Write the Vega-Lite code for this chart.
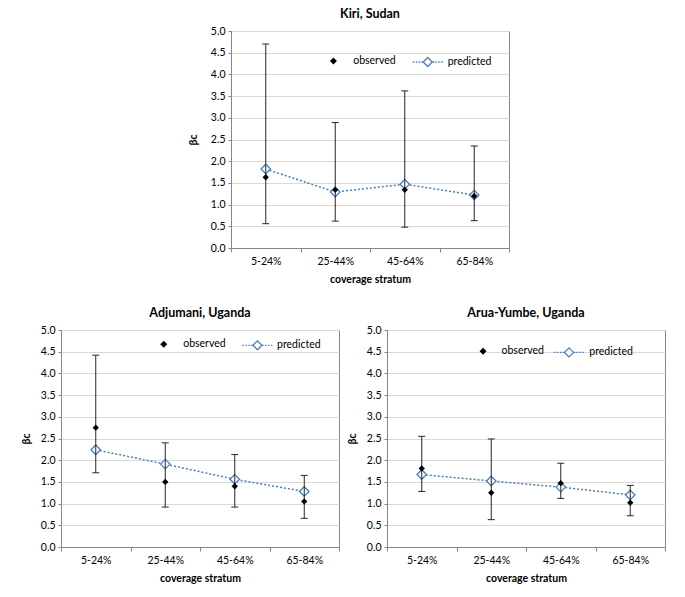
{
  "$schema": "https://vega.github.io/schema/vega-lite/v6.json",
  "padding": {"left": 20, "top": 7, "right": 5, "bottom": 5},
  "background": "white",
  "datasets": {
    "d": [
      {"site": "Kiri, Sudan", "stratum": "5-24%", "obs": 1.63, "pred": 1.82, "lo": 0.56, "hi": 4.70},
      {"site": "Kiri, Sudan", "stratum": "25-44%", "obs": 1.34, "pred": 1.29, "lo": 0.62, "hi": 2.89},
      {"site": "Kiri, Sudan", "stratum": "45-64%", "obs": 1.34, "pred": 1.47, "lo": 0.48, "hi": 3.62},
      {"site": "Kiri, Sudan", "stratum": "65-84%", "obs": 1.20, "pred": 1.22, "lo": 0.63, "hi": 2.35},
      {"site": "Adjumani, Uganda", "stratum": "5-24%", "obs": 2.75, "pred": 2.24, "lo": 1.71, "hi": 4.42},
      {"site": "Adjumani, Uganda", "stratum": "25-44%", "obs": 1.50, "pred": 1.91, "lo": 0.92, "hi": 2.40},
      {"site": "Adjumani, Uganda", "stratum": "45-64%", "obs": 1.40, "pred": 1.56, "lo": 0.92, "hi": 2.13},
      {"site": "Adjumani, Uganda", "stratum": "65-84%", "obs": 1.05, "pred": 1.28, "lo": 0.66, "hi": 1.65},
      {"site": "Arua-Yumbe, Uganda", "stratum": "5-24%", "obs": 1.81, "pred": 1.67, "lo": 1.28, "hi": 2.55},
      {"site": "Arua-Yumbe, Uganda", "stratum": "25-44%", "obs": 1.25, "pred": 1.52, "lo": 0.63, "hi": 2.49},
      {"site": "Arua-Yumbe, Uganda", "stratum": "45-64%", "obs": 1.47, "pred": 1.38, "lo": 1.12, "hi": 1.93},
      {"site": "Arua-Yumbe, Uganda", "stratum": "65-84%", "obs": 1.02, "pred": 1.20, "lo": 0.72, "hi": 1.42}
    ]
  },
  "data": {"name": "d"},
  "vconcat": [
    {
      "hconcat": [
        {
          "width": 126, "height": 217,
          "view": {"stroke": null},
          "data": {"values": []},
          "mark": {"type": "point", "opacity": 0}
        },
        {
          "title": {"text": "Kiri, Sudan"},
          "width": 278, "height": 217,
          "transform": [{"filter": "datum.site === 'Kiri, Sudan'"}],
          "encoding": {"x": {"field": "stratum", "type": "ordinal", "sort": null, "title": "coverage stratum", "scale": {"type": "band", "paddingInner": 0, "paddingOuter": 0}}},
          "layer": [
            {"mark": {"type": "line", "stroke": "#4A7EBB", "strokeDash": [2, 2], "strokeWidth": 1.5},
             "encoding": {"y": {"field": "pred", "type": "quantitative", "title": "βc", "scale": {"domain": [0, 5], "nice": false}, "axis": {"titlePadding": 12}}}},
            {"mark": {"type": "point", "shape": "diamond", "size": 90, "filled": true, "fill": "#ffffff", "strokeWidth": 1.3, "opacity": 1},
             "encoding": {"y": {"field": "pred", "type": "quantitative", "title": "βc"},
               "stroke": {"datum": "predicted", "scale": {"domain": ["predicted"], "range": ["#4A7EBB"]},
                 "legend": {"orient": "none", "legendX": 180.7, "legendY": 15, "title": null, "symbolType": "M-1,0L-0.9,0M-0.8,0L-0.7,0M-0.6,0L-0.5,0M-0.42,0L-0.32,0M0,-0.3L0.3,0L0,0.3L-0.3,0ZM0.32,0L0.42,0M0.5,0L0.6,0M0.7,0L0.8,0M0.9,0L1,0", "symbolSize": 900, "symbolFillColor": "#ffffff", "symbolStrokeWidth": 1.3, "symbolOpacity": 1, "padding": 0, "labelFont": "Lato", "labelFontSize": 10.5, "labelColor": "#000", "labelOffset": 4}}}},
            {"mark": {"type": "rule", "color": "#262626", "strokeWidth": 1},
             "encoding": {"y": {"field": "lo", "type": "quantitative", "title": "βc"}, "y2": {"field": "hi"}}},
            {"mark": {"type": "tick", "color": "#262626", "size": 7, "thickness": 1, "opacity": 1},
             "encoding": {"y": {"field": "lo", "type": "quantitative", "title": "βc"}}},
            {"mark": {"type": "tick", "color": "#262626", "size": 7, "thickness": 1, "opacity": 1},
             "encoding": {"y": {"field": "hi", "type": "quantitative", "title": "βc"}}},
            {"mark": {"type": "point", "shape": "diamond", "size": 40, "filled": true, "strokeWidth": 0, "opacity": 1},
             "encoding": {"y": {"field": "obs", "type": "quantitative", "title": "βc"},
               "fill": {"datum": "observed", "scale": {"domain": ["observed"], "range": ["#000000"]},
                 "legend": {"orient": "none", "legendX": 97.2, "legendY": 24.7, "title": null, "symbolType": "diamond", "symbolSize": 49, "symbolFillColor": "#000000", "symbolStrokeWidth": 0, "symbolOpacity": 1, "padding": 0, "labelFont": "Lato", "labelFontSize": 10.5, "labelColor": "#000", "labelOffset": 14.5}}}}
          ]
        }
      ],
      "spacing": 0,
      "resolve": {"scale": {"fill": "independent", "stroke": "independent", "y": "independent", "x": "independent"}, "legend": {"fill": "independent", "stroke": "independent"}}
    },
    {
      "hconcat": [
        {
          "title": {"text": "Adjumani, Uganda"},
          "width": 278, "height": 217,
          "transform": [{"filter": "datum.site === 'Adjumani, Uganda'"}],
          "encoding": {"x": {"field": "stratum", "type": "ordinal", "sort": null, "title": "coverage stratum", "scale": {"type": "band", "paddingInner": 0, "paddingOuter": 0}}},
          "layer": [
            {"mark": {"type": "line", "stroke": "#4A7EBB", "strokeDash": [2, 2], "strokeWidth": 1.5},
             "encoding": {"y": {"field": "pred", "type": "quantitative", "title": "βc", "scale": {"domain": [0, 5], "nice": false}}}},
            {"mark": {"type": "point", "shape": "diamond", "size": 90, "filled": true, "fill": "#ffffff", "strokeWidth": 1.3, "opacity": 1},
             "encoding": {"y": {"field": "pred", "type": "quantitative", "title": "βc"},
               "stroke": {"datum": "predicted", "scale": {"domain": ["predicted"], "range": ["#4A7EBB"]},
                 "legend": {"orient": "none", "legendX": 180.4, "legendY": -0.7, "title": null, "symbolType": "M-1,0L-0.9,0M-0.8,0L-0.7,0M-0.6,0L-0.5,0M-0.42,0L-0.32,0M0,-0.3L0.3,0L0,0.3L-0.3,0ZM0.32,0L0.42,0M0.5,0L0.6,0M0.7,0L0.8,0M0.9,0L1,0", "symbolSize": 900, "symbolFillColor": "#ffffff", "symbolStrokeWidth": 1.3, "symbolOpacity": 1, "padding": 0, "labelFont": "Lato", "labelFontSize": 10.5, "labelColor": "#000", "labelOffset": 3.6}}}},
            {"mark": {"type": "rule", "color": "#262626", "strokeWidth": 1},
             "encoding": {"y": {"field": "lo", "type": "quantitative", "title": "βc"}, "y2": {"field": "hi"}}},
            {"mark": {"type": "tick", "color": "#262626", "size": 7, "thickness": 1, "opacity": 1},
             "encoding": {"y": {"field": "lo", "type": "quantitative", "title": "βc"}}},
            {"mark": {"type": "tick", "color": "#262626", "size": 7, "thickness": 1, "opacity": 1},
             "encoding": {"y": {"field": "hi", "type": "quantitative", "title": "βc"}}},
            {"mark": {"type": "point", "shape": "diamond", "size": 40, "filled": true, "strokeWidth": 0, "opacity": 1},
             "encoding": {"y": {"field": "obs", "type": "quantitative", "title": "βc"},
               "fill": {"datum": "observed", "scale": {"domain": ["observed"], "range": ["#000000"]},
                 "legend": {"orient": "none", "legendX": 97.5, "legendY": 9, "title": null, "symbolType": "diamond", "symbolSize": 49, "symbolFillColor": "#000000", "symbolStrokeWidth": 0, "symbolOpacity": 1, "padding": 0, "labelFont": "Lato", "labelFontSize": 10.5, "labelColor": "#000", "labelOffset": 14.2}}}}
          ]
        },
        {
          "title": {"text": "Arua-Yumbe, Uganda"},
          "width": 278, "height": 217,
          "transform": [{"filter": "datum.site === 'Arua-Yumbe, Uganda'"}],
          "encoding": {"x": {"field": "stratum", "type": "ordinal", "sort": null, "title": "coverage stratum", "scale": {"type": "band", "paddingInner": 0, "paddingOuter": 0}}},
          "layer": [
            {"mark": {"type": "line", "stroke": "#4A7EBB", "strokeDash": [2, 2], "strokeWidth": 1.5},
             "encoding": {"y": {"field": "pred", "type": "quantitative", "title": "βc", "scale": {"domain": [0, 5], "nice": false}}}},
            {"mark": {"type": "point", "shape": "diamond", "size": 90, "filled": true, "fill": "#ffffff", "strokeWidth": 1.3, "opacity": 1},
             "encoding": {"y": {"field": "pred", "type": "quantitative", "title": "βc"},
               "stroke": {"datum": "predicted", "scale": {"domain": ["predicted"], "range": ["#4A7EBB"]},
                 "legend": {"orient": "none", "legendX": 166, "legendY": 6.4, "title": null, "symbolType": "M-1,0L-0.9,0M-0.8,0L-0.7,0M-0.6,0L-0.5,0M-0.42,0L-0.32,0M0,-0.3L0.3,0L0,0.3L-0.3,0ZM0.32,0L0.42,0M0.5,0L0.6,0M0.7,0L0.8,0M0.9,0L1,0", "symbolSize": 900, "symbolFillColor": "#ffffff", "symbolStrokeWidth": 1.3, "symbolOpacity": 1, "padding": 0, "labelFont": "Lato", "labelFontSize": 10.5, "labelColor": "#000", "labelOffset": 4.3}}}},
            {"mark": {"type": "rule", "color": "#262626", "strokeWidth": 1},
             "encoding": {"y": {"field": "lo", "type": "quantitative", "title": "βc"}, "y2": {"field": "hi"}}},
            {"mark": {"type": "tick", "color": "#262626", "size": 7, "thickness": 1, "opacity": 1},
             "encoding": {"y": {"field": "lo", "type": "quantitative", "title": "βc"}}},
            {"mark": {"type": "tick", "color": "#262626", "size": 7, "thickness": 1, "opacity": 1},
             "encoding": {"y": {"field": "hi", "type": "quantitative", "title": "βc"}}},
            {"mark": {"type": "point", "shape": "diamond", "size": 40, "filled": true, "strokeWidth": 0, "opacity": 1},
             "encoding": {"y": {"field": "obs", "type": "quantitative", "title": "βc"},
               "fill": {"datum": "observed", "scale": {"domain": ["observed"], "range": ["#000000"]},
                 "legend": {"orient": "none", "legendX": 90.8, "legendY": 16, "title": null, "symbolType": "diamond", "symbolSize": 49, "symbolFillColor": "#000000", "symbolStrokeWidth": 0, "symbolOpacity": 1, "padding": 0, "labelFont": "Lato", "labelFontSize": 10.5, "labelColor": "#000", "labelOffset": 13.2}}}}
          ]
        }
      ],
      "spacing": 6,
      "resolve": {"scale": {"fill": "independent", "stroke": "independent", "y": "independent", "x": "independent"}, "legend": {"fill": "independent", "stroke": "independent"}}
    }
  ],
  "spacing": 20,
  "resolve": {"scale": {"fill": "independent", "stroke": "independent", "y": "independent", "x": "independent"}, "legend": {"fill": "independent", "stroke": "independent"}},
  "config": {
    "font": "Lato",
    "view": {"stroke": "#898989", "strokeWidth": 1},
    "title": {"font": "Lato", "fontSize": 12.5, "fontWeight": "bold", "color": "#000", "anchor": "middle", "offset": 6},
    "axis": {"labelFont": "Lato", "labelFontSize": 10.5, "labelColor": "#000", "titleFont": "Lato", "titleFontSize": 10.5, "titleFontWeight": "bold", "titleColor": "#000", "domainColor": "#868686", "tickColor": "#868686"},
    "axisY": {"grid": true, "gridColor": "#D9D9D9", "tickSize": 3, "labelPadding": 3, "titlePadding": 9, "format": ".1f", "labelOverlap": false, "tickCount": 10},
    "axisX": {"grid": false, "tickBand": "extent", "tickSize": 4, "labelAngle": 0, "labelPadding": 4, "titlePadding": 8}
  }
}
